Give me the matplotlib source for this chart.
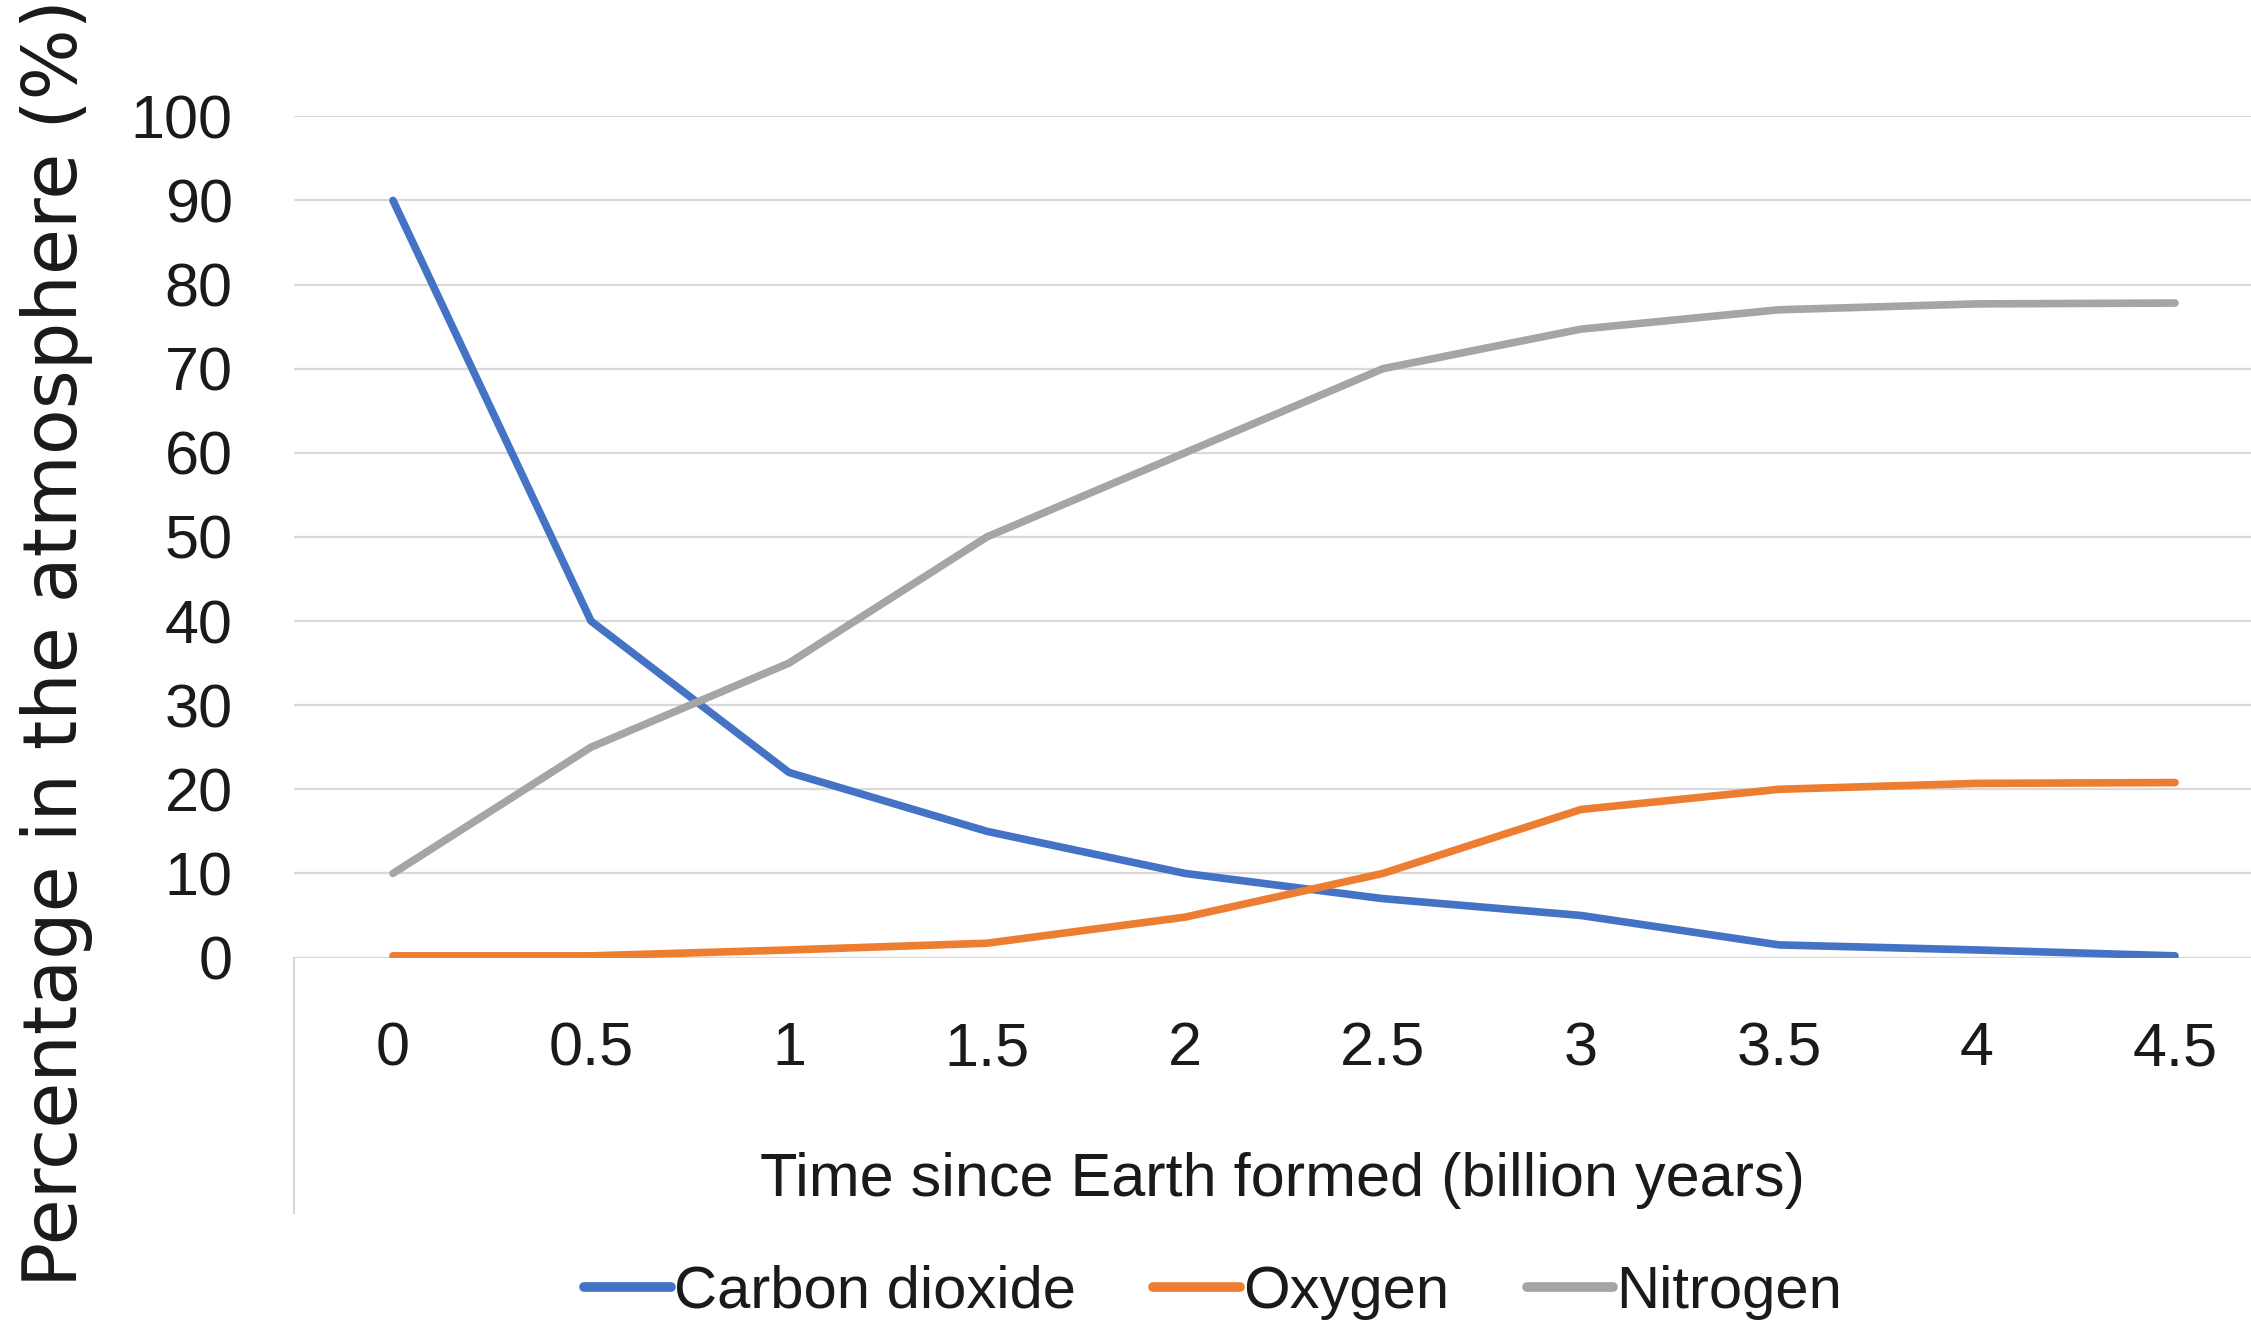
import matplotlib.pyplot as plt

# time since Earth formed (billion years) and % in atmosphere
years = [0, 0.5, 1, 1.5, 2, 2.5, 3, 3.5, 4, 4.5]
year_labels = ['0', '0.5', '1', '1.5', '2', '2.5', '3', '3.5', '4', '4.5']
carbon_dioxide = [90, 40, 22, 15, 10, 7, 5, 1.5, 0.9, 0.2]
oxygen = [0.2, 0.2, 0.9, 1.7, 4.8, 10, 17.6, 20, 20.7, 20.8]
nitrogen = [10, 25, 35, 50, 60, 70, 74.7, 77, 77.7, 77.8]
y_ticks = [0, 10, 20, 30, 40, 50, 60, 70, 80, 90, 100]

tick_font = ['Liberation Sans', 'DejaVu Sans']
text_col = '#1a1a1a'

fig = plt.figure(figsize=(22.51, 13.2), dpi=100)
ax = fig.add_axes([0.1306, 0.2746, 0.8694, 0.6373])

ax.plot(years, carbon_dioxide, color='#4472C4', lw=5.5, label='Carbon dioxide', solid_capstyle='round')
ax.plot(years, oxygen, color='#ED7D31', lw=5.5, label='Oxygen', solid_capstyle='round')
ax.plot(years, nitrogen, color='#A5A5A5', lw=5.5, label='Nitrogen', solid_capstyle='round')

ax.set_xlim(-0.25, 4.692)
ax.set_ylim(0, 100)
ax.set_xticks(years)
ax.set_xticklabels(year_labels)
ax.set_yticks(y_ticks)
ax.grid(axis='y', color='#d9d9d9', lw=1.6)
ax.set_axisbelow(True)
for s in ax.spines.values():
    s.set_visible(False)
ax.tick_params(length=0, labelsize=44, labelcolor=text_col)
ax.tick_params(axis='x', pad=46)
ax.tick_params(axis='y', pad=44)
for lab in ax.get_xticklabels() + ax.get_yticklabels():
    lab.set_family(tick_font)

# the left border line under the plot area
ax.plot([0, 0], [0, -0.304], transform=ax.transAxes, color='#d9d9d9', lw=1.6, clip_on=False)

ax.set_xlabel('Time since Earth formed (billion years)', fontsize=44, color=text_col, family=tick_font)
ax.xaxis.label.set_va('center')
ax.xaxis.set_label_coords(0.505, -0.2655)

fig.text(0.0253, 0.513, 'Percentage in the atmosphere (%)', rotation=90, fontsize=54,
         ha='center', va='center', color=text_col, family='DejaVu Sans')

leg = fig.legend(loc='center', bbox_to_anchor=(0.539, 0.021), ncol=3, frameon=False,
                 prop={'family': tick_font, 'size': 43}, handlelength=1.45, handletextpad=0.05,
                 columnspacing=1.3, labelcolor=text_col)
for h in leg.get_lines():
    h.set_linewidth(7)

fig.savefig('out.png', dpi=100)
